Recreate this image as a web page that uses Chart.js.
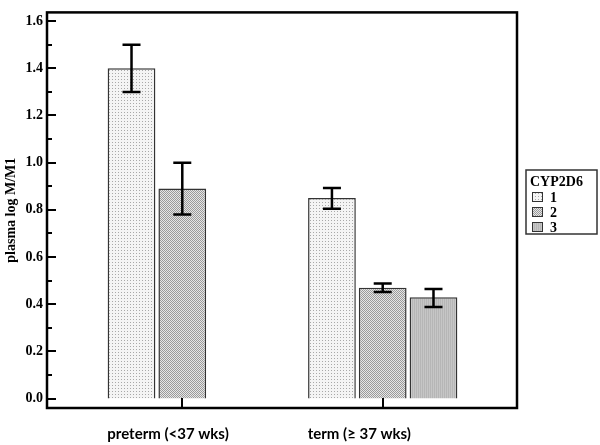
<!DOCTYPE html>
<html>
<head>
<meta charset="utf-8">
<script src="https://cdn.jsdelivr.net/npm/chart.js@4.4.1/dist/chart.umd.min.js"></script>
<style>
  html, body { margin: 0; padding: 0; background: #fff; }
  #wrap { width: 600px; height: 445px; }
</style>
</head>
<body>
<div id="wrap"><canvas id="cypChart" width="600" height="445"></canvas></div>
<script>
// data
const groups = ['preterm (<37 wks)', 'term (\u2265 37 wks)'];
const genotypes = ['1', '2', '3'];
const mean1 = [1.40, 0.85];
const mean2 = [0.89, 0.47];
const mean3 = [null, 0.43];
const low1 = [1.30, 0.805];
const high1 = [1.50, 0.893];
const low2 = [0.78, 0.452];
const high2 = [1.00, 0.488];
const low3 = [null, 0.388];
const high3 = [null, 0.464];
const yTicks = [0, 0.2, 0.4, 0.6, 0.8, 1.0, 1.2, 1.4, 1.6];

function makePattern(kind) {
    const c = document.createElement('canvas');
    const g = c.getContext('2d');
    if (kind === 1) {
        c.width = 3; c.height = 3;
        g.fillStyle = '#f4f4f4';
        g.fillRect(0, 0, 3, 3);
        g.fillStyle = '#a8a8a8';
        g.fillRect(1, 1, 1, 1);
    } else if (kind === 2) {
        c.width = 2; c.height = 2;
        g.fillStyle = '#e6e6e6';
        g.fillRect(0, 0, 2, 2);
        g.fillStyle = '#9a9a9a';
        g.fillRect(0, 0, 1, 1);
        g.fillRect(1, 1, 1, 1);
    } else {
        c.width = 2; c.height = 2;
        g.fillStyle = '#c6c6c6';
        g.fillRect(0, 0, 2, 2);
        g.fillStyle = '#b6b6b6';
        g.fillRect(0, 0, 1, 2);
    }
    return g.createPattern(c, 'repeat');
}

const fills = [makePattern(1), makePattern(2), makePattern(3)];
const lows = [low1, low2, low3];
const highs = [high1, high2, high3];

function toPoints(arr) {
    return arr.map(function (v, i) { return { x: i, y: v }; });
}

// frame, inward ticks, error bars, legend box
const extras = {
    id: 'extras',
    afterDatasetsDraw(chart) {
        const ctx = chart.ctx;
        const yScale = chart.scales.y;
        ctx.save();
        ctx.strokeStyle = '#000';
        ctx.lineWidth = 2.5;
        chart.data.datasets.forEach(function (ds, d) {
            const meta = chart.getDatasetMeta(d);
            meta.data.forEach(function (bar, i) {
                if (lows[d][i] == null) return;
                const yLo = yScale.getPixelForValue(lows[d][i]);
                const yHi = yScale.getPixelForValue(highs[d][i]);
                ctx.beginPath();
                ctx.moveTo(bar.x, yLo);
                ctx.lineTo(bar.x, yHi);
                ctx.moveTo(bar.x - 9, yLo);
                ctx.lineTo(bar.x + 9, yLo);
                ctx.moveTo(bar.x - 9, yHi);
                ctx.lineTo(bar.x + 9, yHi);
                ctx.stroke();
            });
        });
        ctx.restore();
    },
    afterDraw(chart) {
        const ctx = chart.ctx;
        const a = chart.chartArea;
        const yScale = chart.scales.y;
        const xScale = chart.scales.x;
        ctx.save();
        ctx.strokeStyle = '#000';
        ctx.lineWidth = 2.5;
        ctx.strokeRect(a.left, a.top, a.right - a.left, a.bottom - a.top);

        ctx.lineWidth = 2;
        ctx.beginPath();
        for (let v = 0; v <= 16; v++) {
            const y = Math.round(yScale.getPixelForValue(v / 10));
            const len = v % 2 === 0 ? 9 : 5;
            ctx.moveTo(a.left, y);
            ctx.lineTo(a.left + len, y);
        }
        groups.forEach(function (g, i) {
            const x = Math.round(xScale.getPixelForValue(i));
            ctx.moveTo(x, a.bottom);
            ctx.lineTo(x, a.bottom - 10);
        });
        ctx.stroke();

        // legend
        const lx = 526, ly = 170, lw = 71, lh = 64;
        ctx.lineWidth = 1.5;
        ctx.strokeStyle = '#333';
        ctx.strokeRect(lx, ly, lw, lh);
        ctx.fillStyle = '#000';
        ctx.textBaseline = 'middle';
        ctx.textAlign = 'left';
        ctx.font = 'bold 14px "Liberation Serif"';
        ctx.fillText('CYP2D6', lx + 4, ly + 12);
        genotypes.forEach(function (name, k) {
            const cy = ly + 27 + k * 15;
            ctx.fillStyle = fills[k];
            ctx.fillRect(lx + 6, cy - 5, 11, 10);
            ctx.lineWidth = 1;
            ctx.strokeStyle = '#333';
            ctx.strokeRect(lx + 6.5, cy - 4.5, 10, 9);
            ctx.fillStyle = '#000';
            ctx.fillText(name, lx + 24, cy + 1);
        });
        ctx.restore();
    }
};

const datasets = [mean1, mean2, mean3].map(function (vals, k) {
    return {
        label: genotypes[k],
        data: toPoints(vals),
        backgroundColor: fills[k],
        borderColor: '#333',
        borderWidth: 1.5,
        categoryPercentage: 0.76,
        barPercentage: 0.94
    };
});

new Chart(document.getElementById('cypChart').getContext('2d'), {
    type: 'bar',
    data: { datasets: datasets },
    options: {
        responsive: false,
        animation: false,
        layout: { padding: { left: 0, top: 3, right: 83, bottom: 0 } },
        plugins: {
            legend: { display: false },
            tooltip: { enabled: false }
        },
        scales: {
            x: {
                type: 'linear',
                min: -0.675,
                max: 1.67,
                offset: false,
                grid: { display: false, drawTicks: false, offset: false },
                border: { display: false },
                afterBuildTicks: function (scale) {
                    scale.ticks = groups.map(function (g, i) { return { value: i }; });
                },
                afterFit: function (scale) { scale.height = 37; },
                ticks: {
                    autoSkip: false,
                    maxRotation: 0,
                    align: 'start',
                    labelOffset: -75,
                    padding: 17,
                    color: '#000',
                    font: { family: 'Lato', weight: 'bold', size: 15 },
                    callback: function (v) { return groups[v]; }
                }
            },
            y: {
                min: -0.04,
                max: 1.637,
                grid: { display: false, drawTicks: false },
                border: { display: false },
                afterBuildTicks: function (scale) {
                    scale.ticks = yTicks.map(function (v) { return { value: v }; });
                },
                afterFit: function (scale) { scale.width = 47; },
                ticks: {
                    padding: 4,
                    color: '#000',
                    font: { family: 'Liberation Serif', weight: 'bold', size: 14 },
                    callback: function (v) { return v.toFixed(1); }
                },
                title: {
                    display: true,
                    text: 'plasma log M/M1',
                    color: '#000',
                    padding: { top: 3, bottom: 0 },
                    font: { family: 'Liberation Serif', weight: 'bold', size: 14 }
                }
            }
        }
    },
    plugins: [extras]
});
</script>
</body>
</html>
